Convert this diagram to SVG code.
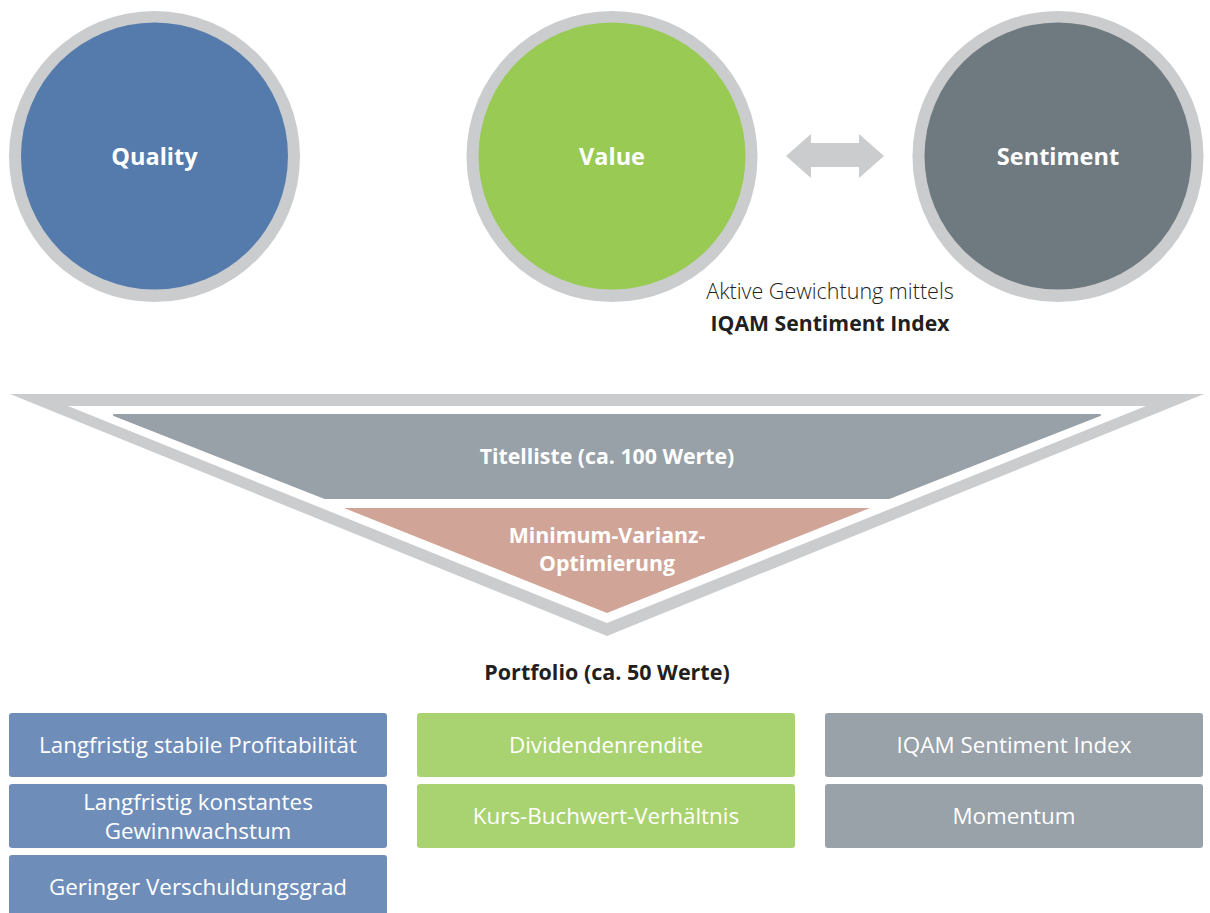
<svg xmlns="http://www.w3.org/2000/svg" width="1210" height="913" viewBox="0 0 1210 913">
<style>
.ring{fill:#cbcccd}
.lbl{font-family:"Open Sans","Noto Sans",sans-serif;font-weight:700;fill:#fff;text-anchor:middle}
.big{font-size:23.5px}
.mid{font-size:21.3px}
.box{font-family:"Open Sans","Noto Sans",sans-serif;font-size:22.4px;fill:#fff;text-anchor:middle}
.dark{font-family:"Open Sans","Noto Sans",sans-serif;fill:#231f20;text-anchor:middle;font-size:21.5px}
.bq{fill:#6f8db9}.bv{fill:#a9d270}.bs{fill:#99a1a9}
</style>
<rect width="1210" height="913" fill="#fff"/>
<g id="quality">
<circle class="ring" cx="154.5" cy="156.5" r="145.5"/>
<circle cx="154.5" cy="156" r="133.5" fill="#557bad"/>
<text class="lbl big" x="154.5" y="165">Quality</text>
</g>
<g id="value">
<circle class="ring" cx="612" cy="156.5" r="145.5"/>
<circle cx="612" cy="156" r="133.5" fill="#99ca53"/>
<text class="lbl big" x="612" y="165">Value</text>
</g>
<g id="sentiment">
<circle class="ring" cx="1058" cy="156.5" r="145.5"/>
<circle cx="1058" cy="156" r="133.5" fill="#6f7a80"/>
<text class="lbl big" x="1058" y="165">Sentiment</text>
</g>
<g id="connectors">
<polygon fill="#cbcccd" points="786,156 811,134 811,143 859,143 859,134 884,156 859,178 859,167 811,167 811,178"/>
</g>
<g id="weighting-note">
<text class="dark" x="830" y="299" style="font-weight:300">Aktive Gewichtung mittels</text>
<text class="dark" x="830" y="331" style="font-weight:700;font-size:21.2px">IQAM Sentiment Index</text>
</g>
<g id="funnel">
<polygon fill="#cbcccd" points="10,394 1204,394 607,636"/>
<polygon fill="#fff" points="68,406 1146,406 607,623"/>
<polygon fill="#98a0a8" stroke="#98a0a8" stroke-width="2" stroke-linejoin="round" points="114,415 1100,415 889,498 325,498"/>
<polygon fill="#d0a598" points="344,508 870,508 607,613"/>
<text class="lbl mid" x="607" y="464">Titelliste (ca. 100 Werte)</text>
<text class="lbl mid" x="607" y="543">Minimum-Varianz-</text>
<text class="lbl mid" x="607" y="571">Optimierung</text>
</g>
<g id="portfolio">
<text class="dark" x="607" y="680" style="font-weight:700">Portfolio (ca. 50 Werte)</text>
</g>
<g id="box-q1"><rect class="bq" x="9" y="713" width="378" height="64" rx="3"/><text class="box" x="198" y="753">Langfristig stabile Profitabilität</text></g>
<g id="box-q2"><rect class="bq" x="9" y="784" width="378" height="64" rx="3"/><text class="box" x="198" y="810">Langfristig konstantes</text><text class="box" x="198" y="839">Gewinnwachstum</text></g>
<g id="box-q3"><rect class="bq" x="9" y="855" width="378" height="64" rx="3"/><text class="box" x="198" y="895">Geringer Verschuldungsgrad</text></g>
<g id="box-v1"><rect class="bv" x="417" y="713" width="378" height="64" rx="3"/><text class="box" x="606" y="753">Dividendenrendite</text></g>
<g id="box-v2"><rect class="bv" x="417" y="784" width="378" height="64" rx="3"/><text class="box" x="606" y="824">Kurs-Buchwert-Verhältnis</text></g>
<g id="box-s1"><rect class="bs" x="825" y="713" width="378" height="64" rx="3"/><text class="box" x="1014" y="753">IQAM Sentiment Index</text></g>
<g id="box-s2"><rect class="bs" x="825" y="784" width="378" height="64" rx="3"/><text class="box" x="1014" y="824">Momentum</text></g>
</svg>
